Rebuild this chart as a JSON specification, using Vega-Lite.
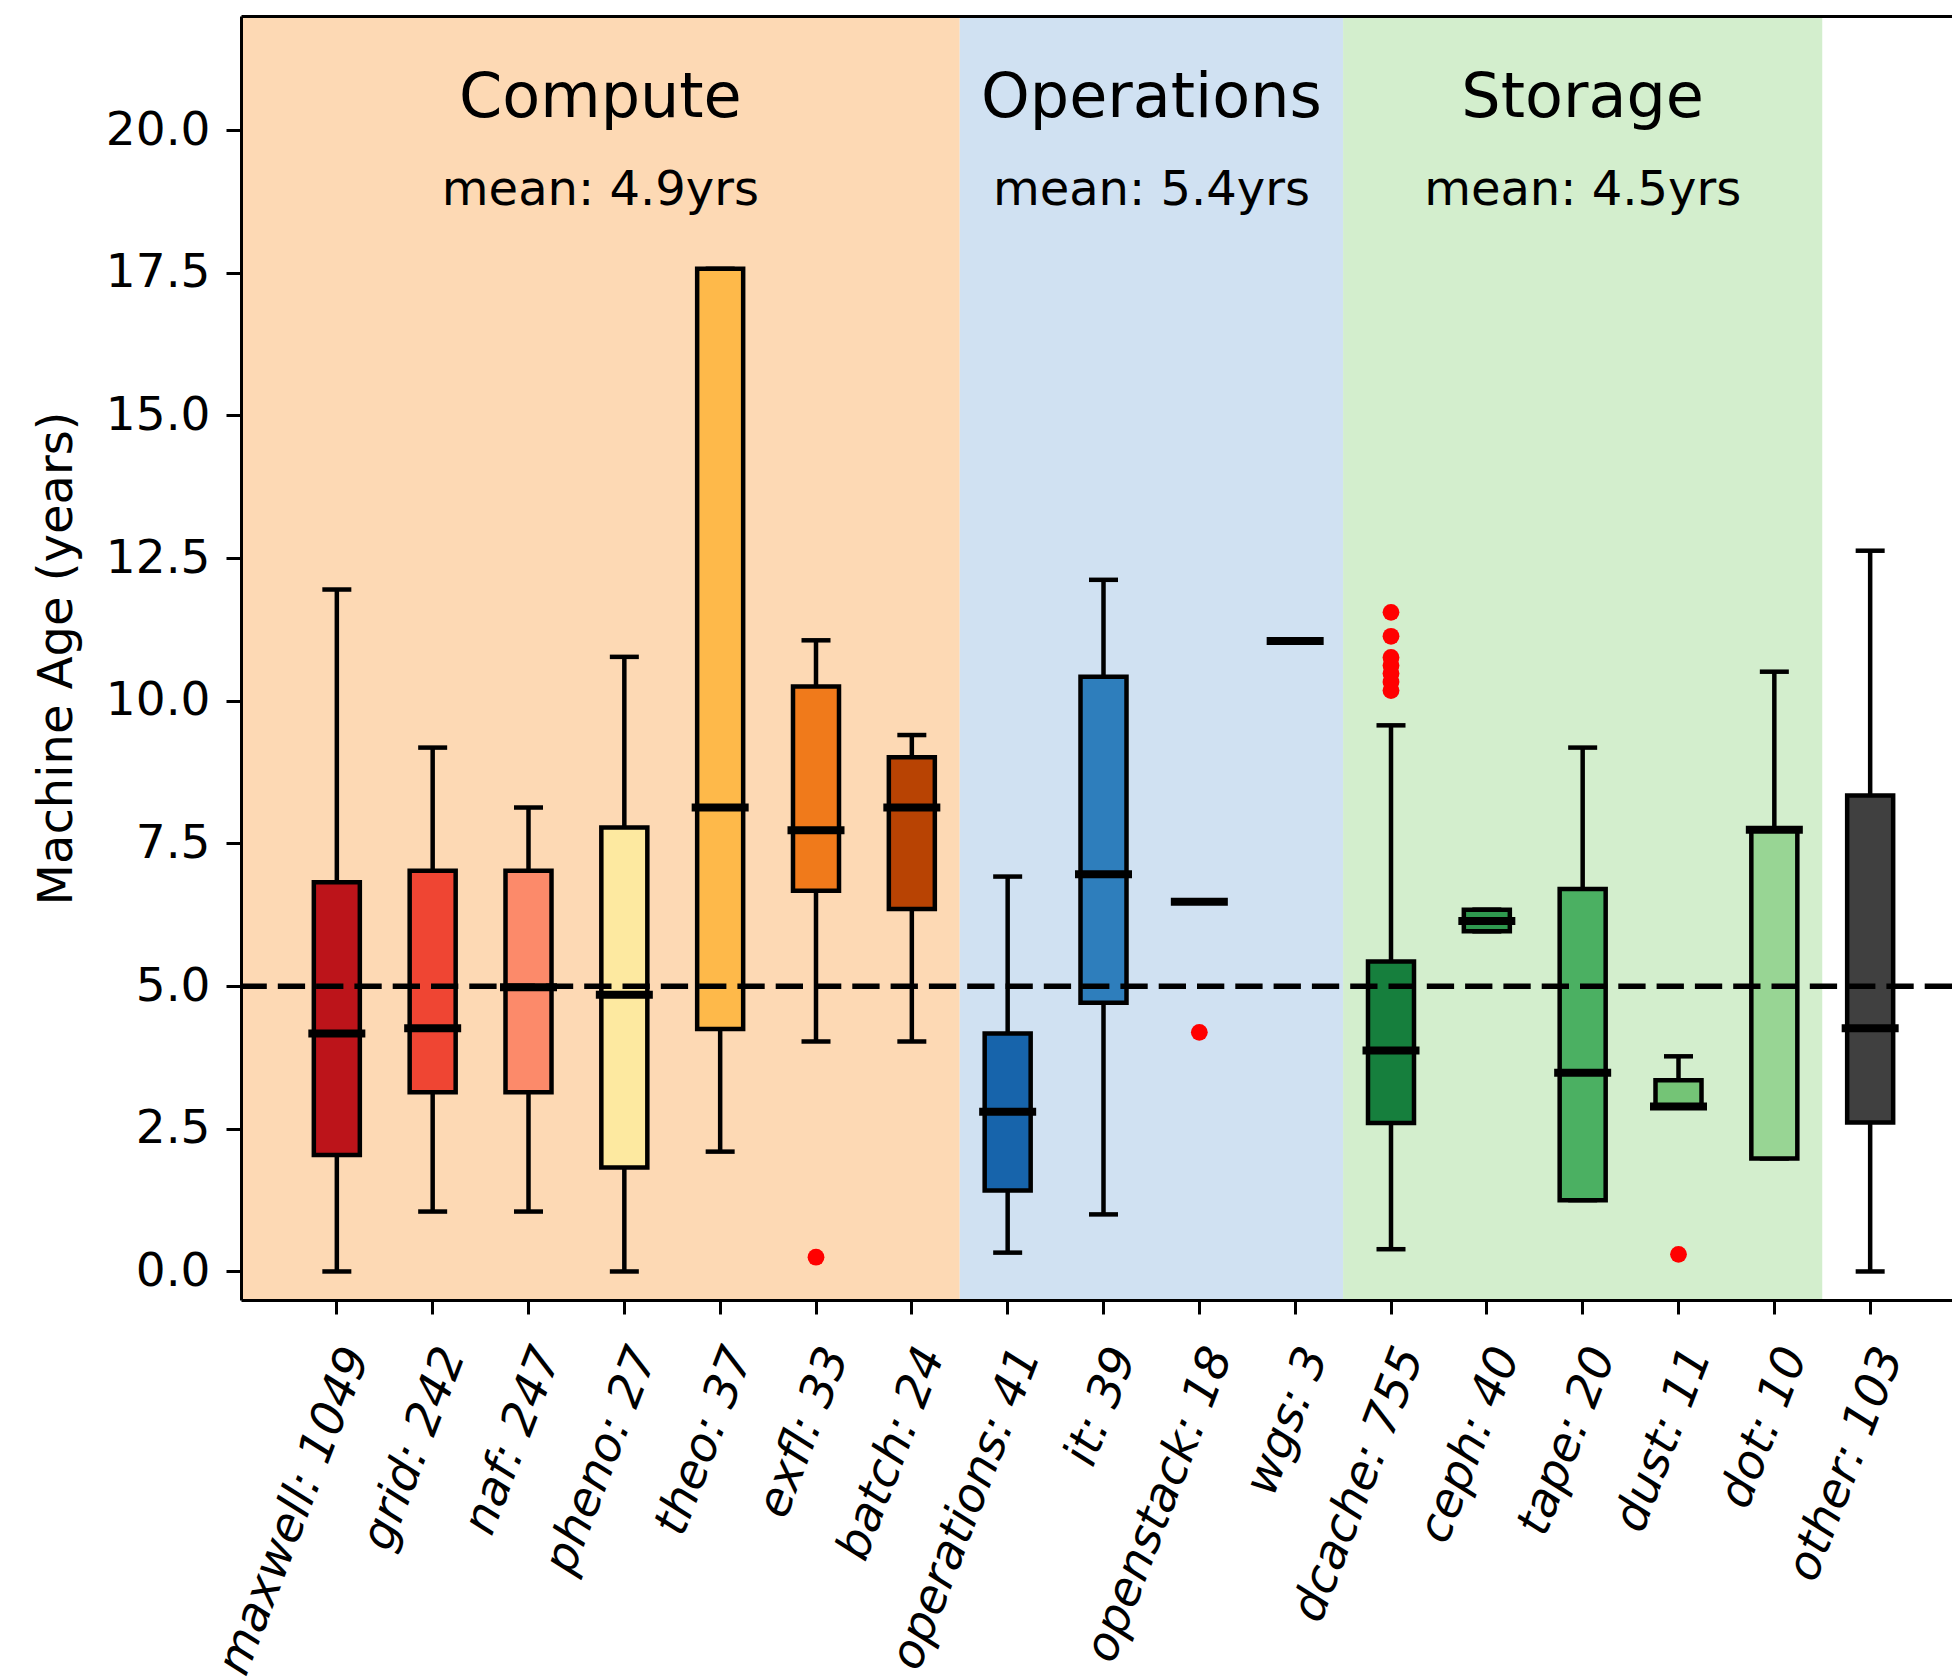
{
  "$schema": "https://vega.github.io/schema/vega-lite/v6.json",
  "autosize": {"type": "none"},
  "width": 1711,
  "height": 1284,
  "padding": {"left": 241, "top": 16, "right": 0, "bottom": 377},
  "background": "white",
  "config": {"view": {"stroke": null}, "font": "DejaVu Sans"},
  "datasets": {
    "groups": [
      {"group": "Compute", "start": 0, "end": 7.5, "mid": 3.75, "mean": "mean: 4.9yrs"},
      {"group": "Operations", "start": 7.5, "end": 11.5, "mid": 9.5, "mean": "mean: 5.4yrs"},
      {"group": "Storage", "start": 11.5, "end": 16.5, "mid": 14, "mean": "mean: 4.5yrs"}
    ],
    "boxes": [
      {"label": "maxwell: 1049", "lo": 0, "q1": 2.04, "med": 4.17, "q3": 6.82, "hi": 11.95},
      {"label": "grid: 242", "lo": 1.05, "q1": 3.14, "med": 4.26, "q3": 7.02, "hi": 9.18},
      {"label": "naf: 247", "lo": 1.05, "q1": 3.14, "med": 4.98, "q3": 7.02, "hi": 8.13},
      {"label": "pheno: 27", "lo": 0, "q1": 1.82, "med": 4.85, "q3": 7.78, "hi": 10.77},
      {"label": "theo: 37", "lo": 2.1, "q1": 4.25, "med": 8.13, "q3": 17.57, "hi": 17.57},
      {"label": "exfl: 33", "lo": 4.03, "q1": 6.67, "med": 7.73, "q3": 10.25, "hi": 11.06},
      {"label": "batch: 24", "lo": 4.03, "q1": 6.35, "med": 8.13, "q3": 9.01, "hi": 9.4},
      {"label": "operations: 41", "lo": 0.33, "q1": 1.42, "med": 2.8, "q3": 4.17, "hi": 6.92},
      {"label": "it: 39", "lo": 1.0, "q1": 4.71, "med": 6.96, "q3": 10.42, "hi": 12.12},
      {"label": "openstack: 18", "lo": 6.48, "q1": 6.48, "med": 6.48, "q3": 6.48, "hi": 6.48},
      {"label": "wgs: 3", "lo": 11.05, "q1": 11.05, "med": 11.05, "q3": 11.05, "hi": 11.05},
      {"label": "dcache: 755", "lo": 0.39, "q1": 2.6, "med": 3.87, "q3": 5.43, "hi": 9.57},
      {"label": "ceph: 40", "lo": 5.96, "q1": 5.96, "med": 6.14, "q3": 6.34, "hi": 6.34},
      {"label": "tape: 20", "lo": 1.25, "q1": 1.25, "med": 3.48, "q3": 6.7, "hi": 9.18},
      {"label": "dust: 11", "lo": 2.89, "q1": 2.89, "med": 2.89, "q3": 3.35, "hi": 3.77},
      {"label": "dot: 10", "lo": 1.98, "q1": 1.98, "med": 7.74, "q3": 7.74, "hi": 10.51},
      {"label": "other: 103", "lo": 0, "q1": 2.61, "med": 4.26, "q3": 8.34, "hi": 12.63}
    ],
    "outliers": [
      {"label": "exfl: 33", "v": 0.25},
      {"label": "openstack: 18", "v": 4.19},
      {"label": "dcache: 755", "v": 11.55},
      {"label": "dcache: 755", "v": 11.13},
      {"label": "dcache: 755", "v": 10.76},
      {"label": "dcache: 755", "v": 10.62},
      {"label": "dcache: 755", "v": 10.48},
      {"label": "dcache: 755", "v": 10.33},
      {"label": "dcache: 755", "v": 10.18},
      {"label": "dust: 11", "v": 0.3}
    ]
  },
  "layer": [
    {
      "data": {"name": "groups"},
      "layer": [
        {
          "mark": {"type": "rect"},
          "encoding": {
            "x": {"field": "start", "type": "quantitative", "title": null,
                  "scale": {"domain": [0, 18], "range": [0, 1725], "nice": false, "zero": false},
                  "axis": {"orient": "top", "labels": false, "ticks": false, "title": null, "grid": false,
                           "domainColor": "black", "domainWidth": 3, "zindex": 3}},
            "x2": {"field": "end"},
            "y": {"datum": 22, "type": "quantitative", "title": "Machine Age (years)",
                  "scale": {"domain": [-0.5, 22], "nice": false, "zero": false},
                  "axis": {"values": [0, 2.5, 5, 7.5, 10, 12.5, 15, 17.5, 20], "format": ".1f", "grid": false,
                           "labelFontSize": 47, "labelFont": "DejaVu Sans", "labelColor": "black", "labelPadding": 16,
                           "tickSize": 15, "tickWidth": 3, "tickColor": "black", "domainColor": "black", "domainWidth": 3,
                           "labelBound": false, "labelFlush": false,
                           "title": "Machine Age (years)", "titleFontSize": 48, "titleFontWeight": "normal", "titleFont": "DejaVu Sans",
                           "titleColor": "black", "titleAngle": 270, "titleBaseline": "middle", "titleAlign": "center",
                           "titleX": -184, "titleY": 642, "zindex": 3}},
            "y2": {"datum": -0.5},
            "color": {"field": "group", "type": "nominal",
                      "scale": {"domain": ["Compute", "Operations", "Storage"], "range": ["#fdd9b4", "#d0e1f2", "#d3eecd"]},
                      "legend": null}
          }
        },
        {
          "mark": {"type": "text", "fontSize": 62, "baseline": "alphabetic", "align": "center", "color": "black", "font": "DejaVu Sans"},
          "encoding": {
            "x": {"field": "mid", "type": "quantitative", "title": null},
            "y": {"datum": 20.23, "type": "quantitative", "title": "Machine Age (years)"},
            "text": {"field": "group"}
          }
        },
        {
          "mark": {"type": "text", "fontSize": 48, "baseline": "alphabetic", "align": "center", "color": "black", "font": "DejaVu Sans"},
          "encoding": {
            "x": {"field": "mid", "type": "quantitative", "title": null},
            "y": {"datum": 18.68, "type": "quantitative", "title": "Machine Age (years)"},
            "text": {"field": "mean"}
          }
        }
      ]
    },
    {
      "layer": [
        {
          "data": {"name": "boxes"},
          "mark": {"type": "rule", "color": "black", "strokeWidth": 4.5, "opacity": 1},
          "encoding": {
            "x": {"field": "label", "type": "nominal", "sort": null,
                  "scale": {"domain": ["maxwell: 1049", "grid: 242", "naf: 247", "pheno: 27", "theo: 37", "exfl: 33", "batch: 24", "operations: 41", "it: 39", "openstack: 18", "wgs: 3", "dcache: 755", "ceph: 40", "tape: 20", "dust: 11", "dot: 10", "other: 103"],
                            "range": [0, 1725], "paddingInner": 0, "paddingOuter": 0.5},
                  "axis": {"orient": "bottom", "title": null, "labelAngle": -69, "labelAlign": "right", "labelBaseline": "middle",
                           "labelFontSize": 47, "labelFontStyle": "italic", "labelFont": "DejaVu Sans", "labelColor": "black",
                           "labelPadding": 35, "labelOffset": 20, "labelLimit": 2000, "labelOverlap": false, "labelBound": false, "labelFlush": false,
                           "tickSize": 14, "tickWidth": 3, "tickColor": "black", "domainColor": "black", "domainWidth": 3,
                           "grid": false, "zindex": 3}},
            "y": {"field": "lo", "type": "quantitative", "title": "Machine Age (years)"},
            "y2": {"field": "hi"}
          }
        },
        {
          "data": {"name": "boxes"},
          "mark": {"type": "tick", "color": "black", "size": 29, "thickness": 4.5, "orient": "horizontal", "opacity": 1},
          "encoding": {
            "x": {"field": "label", "type": "nominal", "sort": null},
            "y": {"field": "lo", "type": "quantitative", "title": "Machine Age (years)"}
          }
        },
        {
          "data": {"name": "boxes"},
          "mark": {"type": "tick", "color": "black", "size": 29, "thickness": 4.5, "orient": "horizontal", "opacity": 1},
          "encoding": {
            "x": {"field": "label", "type": "nominal", "sort": null},
            "y": {"field": "hi", "type": "quantitative", "title": "Machine Age (years)"}
          }
        },
        {
          "data": {"name": "boxes"},
          "mark": {"type": "bar", "width": 46, "stroke": "black", "strokeWidth": 4.5, "opacity": 1},
          "encoding": {
            "x": {"field": "label", "type": "nominal", "sort": null},
            "y": {"field": "q1", "type": "quantitative", "title": "Machine Age (years)"},
            "y2": {"field": "q3"},
            "fill": {"field": "label", "type": "nominal", "legend": null,
                     "scale": {"domain": ["maxwell: 1049", "grid: 242", "naf: 247", "pheno: 27", "theo: 37", "exfl: 33", "batch: 24", "operations: 41", "it: 39", "openstack: 18", "wgs: 3", "dcache: 755", "ceph: 40", "tape: 20", "dust: 11", "dot: 10", "other: 103"],
                               "range": ["#bc141a", "#ef4533", "#fc8a6a", "#fde9a0", "#feb94a", "#f07a1b", "#b84303", "#1764ab", "#2e7ebc", "#529dcc", "#6aaed6", "#167f3d", "#2f984f", "#4bb062", "#74c476", "#98d594", "#404040"]}}
          }
        },
        {
          "data": {"name": "boxes"},
          "mark": {"type": "tick", "color": "black", "size": 57, "thickness": 8, "orient": "horizontal", "opacity": 1},
          "encoding": {
            "x": {"field": "label", "type": "nominal", "sort": null},
            "y": {"field": "med", "type": "quantitative", "title": "Machine Age (years)"}
          }
        },
        {
          "data": {"name": "outliers"},
          "mark": {"type": "circle", "color": "red", "size": 283, "opacity": 1},
          "encoding": {
            "x": {"field": "label", "type": "nominal", "sort": null},
            "y": {"field": "v", "type": "quantitative", "title": "Machine Age (years)"}
          }
        },
        {
          "data": {"values": [{}]},
          "mark": {"type": "rule", "color": "black", "strokeWidth": 5.5, "strokeDash": [27.3, 11], "opacity": 1},
          "encoding": {
            "y": {"datum": 5, "type": "quantitative", "title": "Machine Age (years)"}
          }
        }
      ]
    }
  ],
  "resolve": {"scale": {"x": "independent", "color": "independent"}, "axis": {"x": "independent"}}
}
